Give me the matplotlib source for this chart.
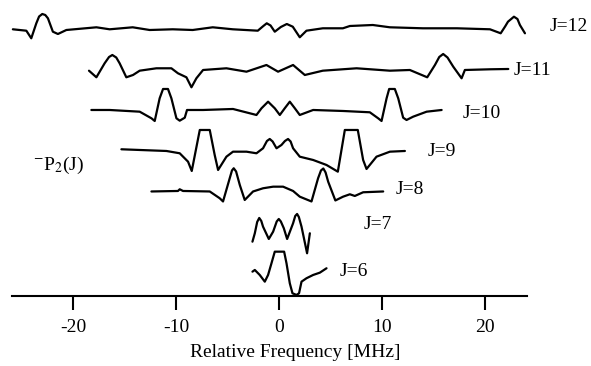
import numpy as np
import matplotlib
matplotlib.use("Agg")
import matplotlib.pyplot as plt

plt.rcParams['font.family'] = ['Liberation Serif', 'DejaVu Serif']
plt.rcParams['mathtext.fontset'] = 'stix'
plt.rcParams['axes.unicode_minus'] = False

# rotational levels and the vertical offset of each trace
levels = [12, 11, 10, 9, 8, 7, 6]
offsets = [26.7, 22.7, 18.65, 14.55, 10.5, 6.15, 2.55]

# relative frequency [MHz] and signal (arbitrary units)
freq_j12 = [-25.85, -24.54, -24.06, -23.57, -23.3, -22.99, -22.7, -22.44, -21.96, -21.47,
            -20.65, -17.73, -16.44, -14.20, -12.55, -10.31, -8.37, -6.42, -4.47, -2.04,
            -1.5, -1.17, -0.8, -0.39, 0.2, 0.78, 1.36, 2.04, 2.69, 4.28,
            6.23, 6.91, 9.14, 10.80, 14.01, 17.32, 20.53, 21.57, 22.0, 22.28,
            22.86, 23.2, 23.44, 23.93]
sig_j12 = [0.02, -0.12, -0.88, 0.62, 1.3, 1.55, 1.45, 1.12, -0.22, -0.45,
           -0.05, 0.22, 0.02, 0.22, -0.05, 0.02, -0.05, 0.22, 0.02, -0.12,
           0.35, 0.62, 0.4, -0.22, 0.25, 0.55, 0.28, -0.78, -0.12, 0.12,
           0.12, 0.35, 0.45, 0.22, 0.12, 0.12, 0.02, -0.38, 0.3, 0.78,
           1.28, 1.05, 0.45, -0.38]

freq_j11 = [-18.45, -17.73, -16.93, -16.5, -16.18, -15.8, -15.47, -14.82, -14.17, -13.52,
            -11.90, -10.44, -9.80, -8.98, -8.49, -8.01, -7.36, -5.09, -3.14, -1.20,
            -0.07, 1.39, 2.53, 4.28, 7.56, 10.80, 12.74, 14.43, 15.18, 15.6,
            15.98, 16.4, 16.96, 17.77, 18.09, 20.53, 22.31]
sig_j11 = [-0.12, -0.78, 0.62, 1.25, 1.45, 1.2, 0.62, -0.78, -0.55, -0.12,
           0.12, 0.12, -0.38, -0.78, -1.78, -0.88, -0.05, 0.12, -0.22, 0.45,
           -0.22, 0.45, -0.55, -0.12, 0.12, -0.12, -0.05, -0.78, 0.45, 1.25,
           1.55, 1.2, 0.28, -0.88, -0.05, 0.02, 0.05]

freq_j10 = [-18.22, -16.44, -13.52, -12.38, -12.06, -11.58, -11.25, -10.77, -10.44, -9.95,
            -9.63, -9.14, -8.92, -7.36, -4.45, -2.17, -1.68, -1.04, -0.39, 0.10,
            0.58, 1.07, 1.56, 2.04, 3.34, 6.25, 8.85, 9.66, 9.99, 10.48,
            10.73, 11.28, 11.61, 12.09, 12.42, 13.06, 14.37, 15.83]
sig_j10 = [0.0, 0.0, -0.17, -0.83, -1.1, 1.17, 2.1, 2.1, 1.17, -0.83,
           -1.07, -0.77, 0.0, 0.0, 0.1, -0.5, 0.17, 0.83, 0.17, -0.5,
           0.17, 0.83, 0.17, -0.5, 0.0, -0.1, -0.23, -0.83, -1.1, 1.17,
           2.1, 2.1, 1.17, -0.77, -1.0, -0.67, -0.17, 0.0]

freq_j9 = [-15.30, -13.52, -10.92, -9.63, -8.82, -8.46, -7.68, -6.71, -6.23, -5.90,
           -5.09, -4.45, -3.14, -2.17, -1.53, -1.15, -0.88, -0.6, -0.22, 0.26,
           0.6, 0.90, 1.15, 1.39, 2.04, 3.34, 4.64, 5.74, 6.42, 7.68,
           8.20, 8.53, 9.50, 10.80, 12.26]
sig_j9 = [0.17, 0.1, 0.0, -0.23, -1.07, -2.0, 2.1, 2.1, -0.4, -1.9,
          -0.57, -0.07, -0.07, -0.23, 0.27, 1.0, 1.2, 0.95, 0.27, 0.6,
          1.0, 1.2, 0.95, 0.27, -0.57, -0.9, -1.4, -2.07, 2.1, 2.1,
          -0.9, -1.8, -0.57, -0.07, 0.0]

freq_j8 = [-12.38, -9.80, -9.63, -9.31, -6.71, -5.74, -5.42, -4.77, -4.55, -4.38,
           -4.15, -3.79, -3.31, -2.50, -1.53, -0.55, 0.42, 1.39, 2.04, 3.18,
           3.82, 4.1, 4.33, 4.55, 4.80, 5.50, 6.25, 6.91, 7.39, 8.20, 10.15]
sig_j8 = [0.0, 0.05, 0.22, 0.05, 0.0, -0.68, -1.0, 1.32, 2.1, 2.32,
          2.0, 0.65, -0.85, 0.0, 0.32, 0.48, 0.48, 0.05, -0.52, -1.0,
          1.32, 2.1, 2.3, 1.9, 0.98, -0.9, -0.52, -0.28, -0.45, -0.08, 0.0]

freq_j7 = [-2.56, -2.33, -2.1, -1.90, -1.7, -1.53, -0.97, -0.55, -0.2, 0.0,
           0.2, 0.49, 0.81, 1.39, 1.6, 1.78, 1.95, 2.21, 2.75, 3.02]
sig_j7 = [-0.67, 0.17, 1.3, 1.7, 1.4, 0.83, -0.4, 0.33, 1.35, 1.6,
          1.35, 0.67, -0.4, 1.17, 1.9, 2.1, 1.8, 0.83, -1.83, 0.17]

freq_j6 = [-2.56, -2.33, -1.85, -1.36, -1.04, -0.71, -0.39, 0.52, 0.75, 1.07,
           1.33, 1.72, 1.97, 2.21, 2.69, 3.34, 3.99, 4.64]
sig_j6 = [-0.07, 0.1, -0.4, -1.07, -0.4, 0.77, 1.93, 1.93, 0.77, -1.23,
          -2.23, -2.4, -2.23, -1.07, -0.73, -0.4, -0.17, 0.27]

freqs = [freq_j12, freq_j11, freq_j10, freq_j9, freq_j8, freq_j7, freq_j6]
signals = [sig_j12, sig_j11, sig_j10, sig_j9, sig_j8, sig_j7, sig_j6]

# where each "J=" label sits (MHz, height)
label_x = [26.3, 22.8, 17.9, 14.5, 11.4, 8.2, 5.9]
label_y = [27.0, 22.6, 18.3, 14.5, 10.65, 7.15, 2.5]

xticks = [-20, -10, 0, 10, 20]

fig = plt.figure(figsize=(5.91, 3.66), dpi=100)
ax = fig.add_axes([0.0, 0.19, 1.0, 0.81])

for f, s, off in zip(freqs, signals, offsets):
    ax.plot(f, np.array(s) + off, color='black', lw=1.6,
            solid_joinstyle='round', solid_capstyle='round')

for j, lx, ly in zip(levels, label_x, label_y):
    ax.text(lx, ly, 'J=%d' % j, fontsize=14, ha='left', va='center')

ax.text(-23.9, 13.15, r'$^{-}$P$_{2}$(J)', fontsize=14, ha='left', va='center')

ax.set_xlim(-27.1, 30.35)
ax.set_ylim(0, 29.65)
ax.set_xticks(xticks)
ax.set_xticklabels([str(t) for t in xticks])
ax.set_yticks([])
for side in ['top', 'right', 'left']:
    ax.spines[side].set_visible(False)
ax.spines['bottom'].set_linewidth(1.5)
ax.spines['bottom'].set_bounds(-25.9, 24.1)
ax.tick_params(axis='x', direction='out', length=10, width=1.5, labelsize=14, pad=6)
ax.set_xlabel('Relative Frequency [MHz]', fontsize=14, labelpad=6)
ax.patch.set_visible(False)

fig.savefig('out.png', dpi=100)
